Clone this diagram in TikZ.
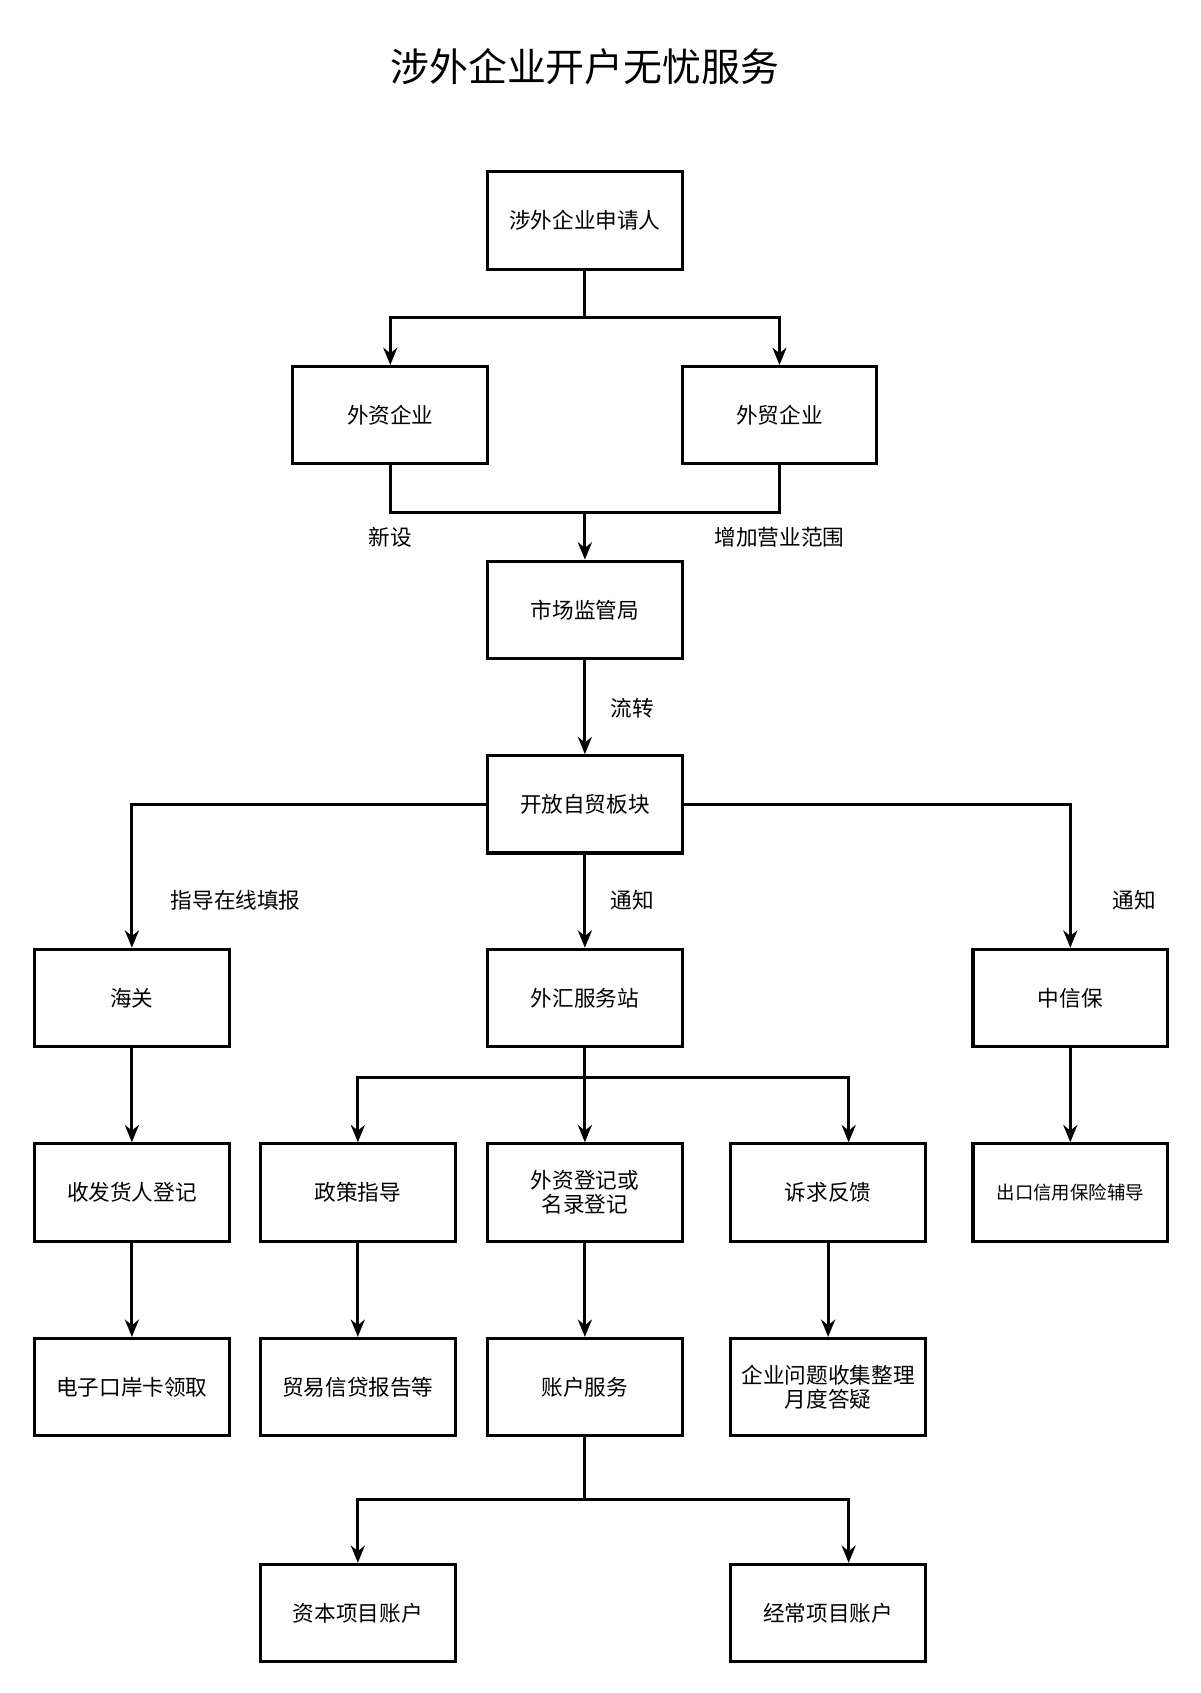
\documentclass[tikz,border=0pt]{standalone}
\usepackage{fontspec}
\setmainfont{Noto Sans CJK SC}
\usetikzlibrary{arrows.meta}
\begin{document}
\begin{tikzpicture}[x=0.5pt,y=-0.5pt,
  box/.style={draw,line width=1.4pt,minimum width=90pt,minimum height=45pt,align=center,font=\fontsize{10}{11}\selectfont,inner sep=2pt},
  lab/.style={font=\fontsize{10}{12}\selectfont},
  ln/.style={line width=1.3pt},
  ar/.style={ln,-{Stealth[length=8pt,width=6.5pt]}}]
\useasboundingbox (0,0) rectangle (1110,1566);
\node[font=\fontsize{18}{20}\selectfont] (title) at (541,62) {涉外企业开户无忧服务};
\node[box] (a) at (541,204) {涉外企业申请人};
\node[box] (b1) at (361,384) {外资企业};
\node[box] (b2) at (721,384) {外贸企业};
\node[box] (c) at (541,564) {市场监管局};
\node[box] (d) at (541,744) {开放自贸板块};
\node[box] (e1) at (122,923) {海关};
\node[box] (e2) at (541,923) {外汇服务站};
\node[box] (e3) at (990,923) {中信保};
\node[box] (f1) at (122,1103) {收发货人登记};
\node[box] (f2) at (331,1103) {政策指导};
\node[box] (f3) at (541,1103) {外资登记或\\名录登记};
\node[box] (f4) at (766,1103) {诉求反馈};
\node[box,font=\fontsize{8.5}{10}\selectfont] (f5) at (990,1103) {出口信用保险辅导};
\node[box] (g1) at (122,1283) {电子口岸卡领取};
\node[box] (g2) at (331,1283) {贸易信贷报告等};
\node[box] (g3) at (541,1283) {账户服务};
\node[box] (g4) at (766,1283) {企业问题收集整理\\月度答疑};
\node[box] (h1) at (331,1492) {资本项目账户};
\node[box] (h2) at (766,1492) {经常项目账户};
\node[lab] (l1) at (361,497) {新设};
\node[lab] (l2) at (721,497) {增加营业范围};
\node[lab] (l3) at (585,655) {流转};
\node[lab] (l4) at (218,833) {指导在线填报};
\node[lab] (l5) at (585,833) {通知};
\node[lab] (l6) at (1049,833) {通知};
\coordinate (j1) at (541,294);
\coordinate (j2) at (541,474);
\coordinate (j3) at (541,997);
\coordinate (j4) at (541,1387);
\draw[ln] (a.south) -- (j1);
\draw[ar] (j1) -| (b1.north);
\draw[ar] (j1) -| (b2.north);
\draw[ln] (b1.south) |- (j2) -| (b2.south);
\draw[ar] (j2) -- (c.north);
\draw[ar] (c.south) -- (d.north);
\draw[ar] (d.west) -| (e1.north);
\draw[ar] (d.south) -- (e2.north);
\draw[ar] (d.east) -| (e3.north);
\draw[ar] (e1.south) -- (f1.north);
\draw[ar] (e3.south) -- (f5.north);
\draw[ln] (e2.south) -- (j3);
\draw[ar] (j3) -| (f2.north);
\draw[ar] (j3) -- (f3.north);
\draw[ar] (j3) -| ([xshift=9.5pt]f4.north);
\draw[ar] (f1.south) -- (g1.north);
\draw[ar] (f2.south) -- (g2.north);
\draw[ar] (f3.south) -- (g3.north);
\draw[ar] (f4.south) -- (g4.north);
\draw[ln] (g3.south) -- (j4);
\draw[ar] (j4) -| (h1.north);
\draw[ar] (j4) -| ([xshift=9.5pt]h2.north);
\end{tikzpicture}
\end{document}
